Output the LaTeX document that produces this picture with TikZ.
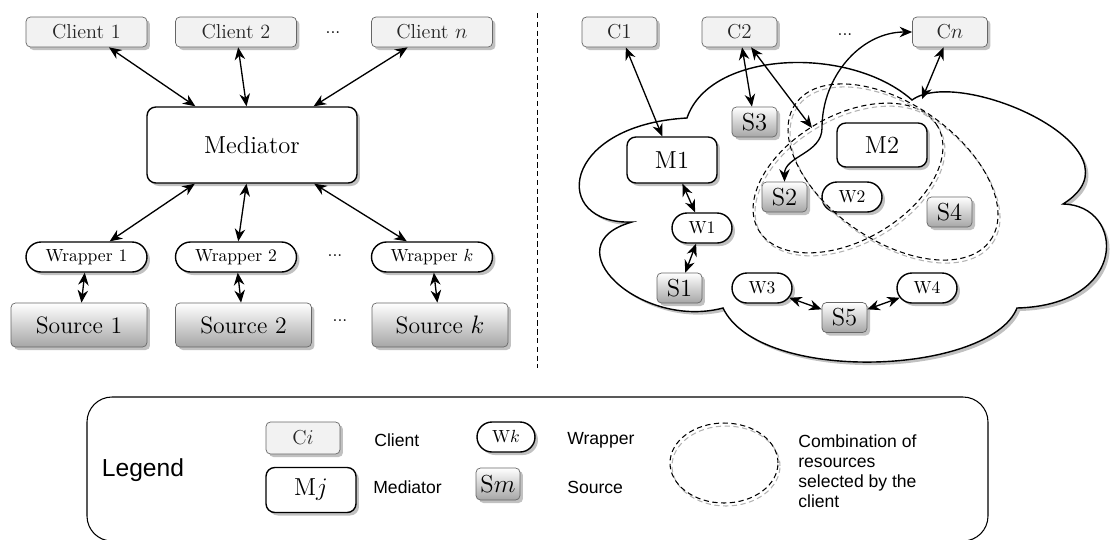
\documentclass[tikz,border=0pt]{standalone}
\usepackage{fontspec}
\newfontfamily\legfont{Liberation Sans}
\usepackage{tikz}
\usetikzlibrary{shapes.misc, shadows, arrows.meta, positioning, calc}

\tikzset{
	boxshadow/.style={drop shadow={shadow xshift=0.06cm, shadow yshift=-0.06cm, fill=black!30, opacity=0.8}},
	clientbox/.style={draw=black!60, fill=black!5, rounded corners=2.5pt, text=black!85, font=\fontsize{11.5}{13}\selectfont, minimum height=0.6cm, inner sep=0pt, boxshadow},
	medbox/.style={draw, thick, fill=white, rounded corners=5pt, font=\fontsize{14}{16}\selectfont, inner sep=0pt, boxshadow},
	wrapbox/.style={draw, thick, fill=white, rounded rectangle, minimum height=0.6cm, inner sep=0pt, boxshadow},
	srcbox/.style={draw=black!60, top color=white, bottom color=black!35, rounded corners=2.5pt, font=\fontsize{14}{16}\selectfont, minimum height=0.6cm, inner sep=0pt, boxshadow},
	biarrow/.style={{Stealth[length=2.5mm,width=2.1mm]}-{Stealth[length=2.5mm,width=2.1mm]}, line width=0.75pt},
	selection/.style={dash pattern=on 3pt off 2pt, semithick},
	selshadow/.style={selection, draw=black!30, shift={(2,3)}},
	legtext/.style={font=\legfont\fontsize{10}{11.4}\selectfont, anchor=west, inner sep=0pt, align=left},
}

\begin{document}
\begin{tikzpicture}[x=0.02cm, y=-0.02cm]
	
	\useasboundingbox (0,0) rectangle (1110,539);
	
	%//left part: one mediator
	
	\foreach \n/\x/\txt in {1/86.5/Client 1, 2/236/Client 2, n/432/Client $n$}
	\node [clientbox, minimum width=2.42cm] (c\n) at (\x, 32) {\txt};
	\node (cdots) at (333, 33) {...};
	
	\node [medbox, minimum width=4.2cm, minimum height=1.52cm] (med) at (252, 145) {Mediator};
	
	\foreach \n/\x/\txt in {1/86.5/Wrapper 1, 2/236/Wrapper 2, k/432/Wrapper $k$}
	\node [wrapbox, minimum width=2.42cm] (w\n) at (\x, 257) {\txt};
	\node (wdots) at (335, 256) {...};
	
	\foreach \n/\x/\txt in {1/79/Source 1, 2/243.5/Source 2, k/440/Source $k$}
	\node [srcbox, minimum width=2.72cm, minimum height=0.88cm, font=\fontsize{13.5}{16}\selectfont] (s\n) at (\x, 325) {\txt};
	\node (sdots) at (340, 321) {...};
	
	\foreach \a in {c1, c2, cn, w1, w2, wk}
	\draw [biarrow] (\a) -- (med);
	\foreach \n in {1, 2, k}
	\draw [biarrow] (w\n) -- (s\n);
	
	\draw [densely dashed] (537, 13) -- (537, 368);
	
	%//right part: the cloud of mediators
	
	\draw [thick, fill=white, boxshadow] (687,118) .. controls (710,50) and (850,45) .. (912,100)
	.. controls (960,65) and (1150,150) .. (1063,204)
	.. controls (1125,205) and (1130,305) .. (1017,308)
	.. controls (990,375) and (760,385) .. (723,308)
	.. controls (640,330) and (550,245) .. (632,222)
	.. controls (550,225) and (560,125) .. (687,118) -- cycle;
	
	\foreach \n/\x in {1/619.5, 2/739.5, n/950}
	\node [clientbox, minimum width=1.5cm] (rc\n) at (\x, 32) {C$\n$};
	\node (rcdots) at (845, 35) {...};
	
	\node [medbox, minimum width=1.8cm, minimum height=0.92cm] (m1) at (672, 160) {M1};
	\node [medbox, minimum width=1.8cm, minimum height=0.88cm] (m2) at (882, 145) {M2};
	
	\foreach \n/\x/\y in {1/702/228, 2/852/197, 3/762/288, 4/927/288}
	\node [wrapbox, minimum width=1.2cm] (rw\n) at (\x, \y) {W\n};
	
	\foreach \n/\x/\y in {1/679.5/288, 2/784.5/197, 3/754.5/122, 4/949.5/212, 5/844.5/317.5}
	\node [srcbox, minimum width=0.9cm] (rs\n) at (\x, \y) {S\n};
	
	%//combinations selected by the clients
	\draw [selshadow, rotate around={30:(848,178)}] (848,178) ellipse [x radius=2.07cm, y radius=1.25cm];
	\draw [selection, rotate around={30:(848,178)}] (848,178) ellipse [x radius=2.07cm, y radius=1.25cm];
	\draw [selshadow, rotate around={-35:(893,172)}] (893,172) ellipse [x radius=2.38cm, y radius=1.36cm];
	\draw [selection, rotate around={-35:(893,172)}] (893,172) ellipse [x radius=2.38cm, y radius=1.36cm];
	
	\coordinate (selpt) at (812, 128);
	\coordinate (cloudpt) at (922, 99);
	\coordinate (bend) at (822, 128);
	
	\draw [biarrow] (rc1) -- (m1);
	\draw [biarrow] (rc2) -- (rs3);
	\draw [biarrow] (rc2) -- (selpt);
	\draw [biarrow] (rcn) -- (cloudpt);
	\draw [biarrow] (rs2.north) to[out=90, in=-90] (bend) to[out=90, in=180] (rcn.west);
	\draw [biarrow] (m1) -- (rw1);
	\draw [biarrow] (rw1) -- (rs1);
	\draw [biarrow] (rw3) -- (rs5);
	\draw [biarrow] (rw4) -- (rs5);
	
	%//legend
	
	\draw [semithick, rounded corners=0.5cm] (87, 397) rectangle (988, 541);
	\node [font=\legfont\fontsize{14}{16}\selectfont] (leg) at (143, 470) {Legend};
	
	\node [clientbox, minimum width=1.48cm, minimum height=0.64cm] (lci) at (303, 438) {C$i$};
	\node [medbox, minimum width=1.8cm, minimum height=0.9cm] (lmj) at (311, 490) {M$j$};
	\node [wrapbox, minimum width=1.16cm] (lwk) at (506, 437) {W$k$};
	\node [srcbox, minimum width=0.88cm, minimum height=0.64cm] (lsm) at (498, 484) {S$m$};
	
	\node [legtext] (lclient) at (374, 440) {Client};
	\node [legtext] (lmed) at (373, 487) {Mediator};
	\node [legtext] (lwrap) at (567, 440) {Wrapper};
	\node [legtext] (lsrc) at (567, 487) {Source};
	
	\draw [selshadow] (724, 463) ellipse [x radius=1.08cm, y radius=0.8cm];
	\draw [selection] (724, 463) ellipse [x radius=1.08cm, y radius=0.8cm];
	\node [legtext] (lcomb) at (798, 471) {Combination of\\resources\\selected by the\\client};
	
\end{tikzpicture}
\end{document}
